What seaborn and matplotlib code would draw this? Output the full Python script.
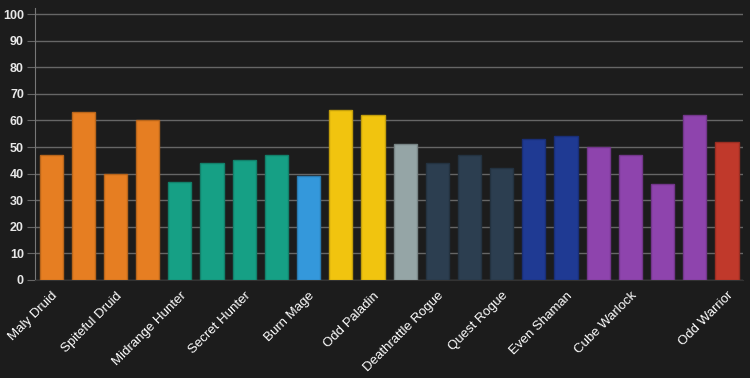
import pandas as pd
import seaborn as sns
import matplotlib.pyplot as plt
import matplotlib.colors as mcolors

# Data
decks = [
    "Maly Druid", "Taunt Druid", "Spiteful Druid", "Token Druid",
    "Midrange Hunter", "Recruit Hunter", "Secret Hunter", "Spell Hunter",
    "Burn Mage", "Even Paladin", "Odd Paladin", "Tempo Priest",
    "Deathrattle Rogue", "Odd Rogue", "Quest Rogue",
    "Shudderwock Shaman", "Even Shaman",
    "Zoo Warlock", "Cube Warlock", "Control Warlock", "Even Warlock",
    "Odd Warrior",
]
winrates = [47, 63, 40, 60, 37, 44, 45, 47, 39, 64, 62, 51,
            44, 47, 42, 53, 54, 50, 47, 36, 62, 52]
colors = [
    "#e67e22", "#e67e22", "#e67e22", "#e67e22",
    "#16a085", "#16a085", "#16a085", "#16a085",
    "#3498db", "#f1c40f", "#f1c40f", "#95a5a6",
    "#2c3e50", "#2c3e50", "#2c3e50",
    "#1f3a93", "#1f3a93",
    "#8e44ad", "#8e44ad", "#8e44ad", "#8e44ad",
    "#c0392b",
]
shown_ticks = [0, 2, 4, 6, 8, 10, 12, 14, 16, 18, 21]

df = pd.DataFrame({"deck": decks, "winrate": winrates})

bg = "#1c1c1c"
plt.rcParams["font.family"] = ["Liberation Sans", "DejaVu Sans"]

fig = plt.figure(figsize=(7.5, 3.78), dpi=100, facecolor=bg)
ax = fig.add_axes([0.0467, 0.2593, 0.944, 0.7195])
ax.set_facecolor(bg)

sns.barplot(
    data=df,
    x="deck",
    y="winrate",
    hue="deck",
    palette=colors,
    saturation=1,
    legend=False,
    width=0.72,
    ax=ax,
    zorder=3,
)

for bar, c in zip(ax.patches, colors):
    r, g, b = mcolors.to_rgb(c)
    bar.set_edgecolor((r * 0.8, g * 0.8, b * 0.8))
    bar.set_linewidth(1)

ax.set(xlabel=None, ylabel=None)
ax.set_xlim(-0.5, len(decks) - 0.5)
ax.set_ylim(0, 102.3)
ax.set_yticks(range(0, 101, 10))
ax.grid(axis="y", color="#666666", linewidth=1, zorder=0)
ax.grid(axis="x", visible=False)

ax.set_xticks(shown_ticks)
ax.set_xticklabels([decks[i] for i in shown_ticks], rotation=45, ha="right",
                   rotation_mode="anchor", color="white", fontsize=9.5)
ax.tick_params(axis="x", length=0, pad=7)
ax.tick_params(axis="y", length=6, color="#666666", labelcolor="#e8e8e8",
               labelsize=9, pad=2)
for lbl in ax.get_yticklabels():
    lbl.set_fontweight("bold")

ax.spines[["top", "right"]].set_visible(False)
ax.spines["left"].set_color("#777777")
ax.spines["bottom"].set_color("#333333")

fig.savefig("out.png", dpi=100, facecolor=bg)
